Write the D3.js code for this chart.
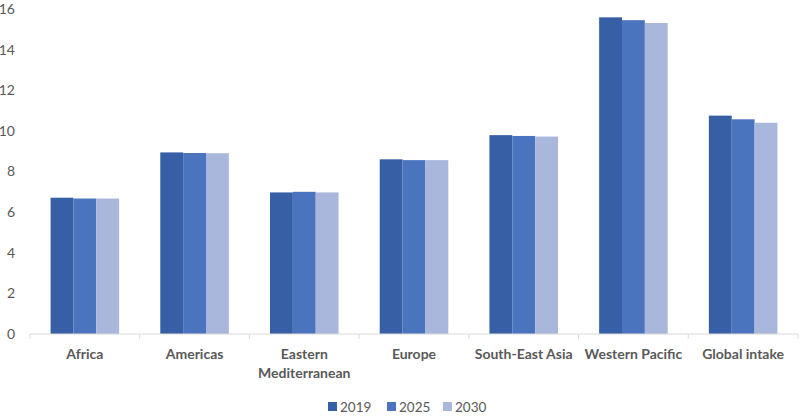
<!DOCTYPE html>
<html>
<head>
<meta charset="utf-8">
<script src="https://cdn.jsdelivr.net/npm/d3@7"></script>
<style>
  html, body { margin: 0; padding: 0; background: #fff; }
  svg { display: block; }
  text { font-family: Lato, "Open Sans", sans-serif; }
</style>
</head>
<body>
<svg id="chart" width="800" height="420"></svg>
<script>
const categories = ["Africa", "Americas", "Eastern Mediterranean", "Europe", "South-East Asia", "Western Pacific", "Global intake"];
const series = ["2019", "2025", "2030"];
const values2019 = [6.71, 8.94, 6.97, 8.60, 9.79, 15.59, 10.75];
const values2025 = [6.67, 8.91, 7.00, 8.56, 9.75, 15.45, 10.57];
const values2030 = [6.67, 8.90, 6.97, 8.56, 9.72, 15.31, 10.40];
const yTicks = [0, 2, 4, 6, 8, 10, 12, 14, 16];
const colors = ["#365fa6", "#4a74bd", "#a9b7dc"];

const seriesValues = [values2019, values2025, values2030];
const svg = d3.select("#chart");

const x0 = d3.scaleBand().domain(categories).range([30, 798]).padding(0);
const x1 = d3.scaleBand().domain(series).range([0, x0.bandwidth()]).paddingInner(0).paddingOuter(0.9);
const y = d3.scaleLinear().domain([0, 16]).range([334, 9]);
const color = d3.scaleOrdinal().domain(series).range(colors);

// Y axis labels (no line)
const yAxis = svg.append("g").attr("transform", "translate(15,0)")
  .call(d3.axisLeft(y).tickValues(yTicks).tickSize(0).tickPadding(0).tickFormat(d3.format("d")));
yAxis.select(".domain").remove();
yAxis.selectAll("text").attr("fill", "#595959").style("font-size", "14px").style("font-family", "Lato, sans-serif");

// Bars
const groups = svg.append("g").selectAll("g")
  .data(categories).join("g")
  .attr("transform", d => `translate(${x0(d)},0)`);
groups.selectAll("rect")
  .data((d, i) => series.map((s, j) => ({ s, v: seriesValues[j][i] })))
  .join("rect")
  .attr("x", d => x1(d.s))
  .attr("width", x1.bandwidth())
  .attr("y", d => y(d.v))
  .attr("height", d => y(0) - y(d.v))
  .attr("fill", d => color(d.s));

// X axis
const xAxis = svg.append("g").attr("transform", `translate(0,${y(0)})`)
  .call(d3.axisBottom(x0).tickSize(0).tickPadding(0).tickFormat(""));
xAxis.select(".domain").attr("stroke", "#d9d9d9").attr("d", `M30,0H798`);
const bounds = categories.map(c => x0(c)).concat([x0.range()[1]]);
xAxis.selectAll(".bound").data(bounds).join("line")
  .attr("class", "bound")
  .attr("x1", d => d).attr("x2", d => d)
  .attr("y1", 0).attr("y2", 5)
  .attr("stroke", "#d9d9d9");

// Category labels (wrap Eastern Mediterranean)
const labelLines = { "Eastern Mediterranean": ["Eastern", "Mediterranean"] };
svg.append("g").selectAll("text")
  .data(categories).join("text")
  .attr("x", d => x0(d) + x0.bandwidth() / 2)
  .attr("y", 359)
  .attr("text-anchor", "middle")
  .attr("fill", "#595959")
  .style("font-size", "14px")
  .style("font-weight", "bold")
  .each(function(d) {
    const lines = labelLines[d] || [d];
    const t = d3.select(this);
    lines.forEach((ln, i) => {
      t.append("tspan").attr("x", x0(d) + x0.bandwidth() / 2).attr("dy", i === 0 ? 0 : 19).text(ln);
    });
  });

// Legend
const legendX = [328, 387, 443];
const legend = svg.append("g").selectAll("g")
  .data(series).join("g")
  .attr("transform", (d, i) => `translate(${legendX[i]},402)`);
legend.append("rect").attr("width", 9).attr("height", 9).attr("fill", d => color(d));
legend.append("text").attr("x", 12).attr("y", 9.5)
  .attr("fill", "#595959").style("font-size", "13.5px").text(d => d);
</script>
</body>
</html>
